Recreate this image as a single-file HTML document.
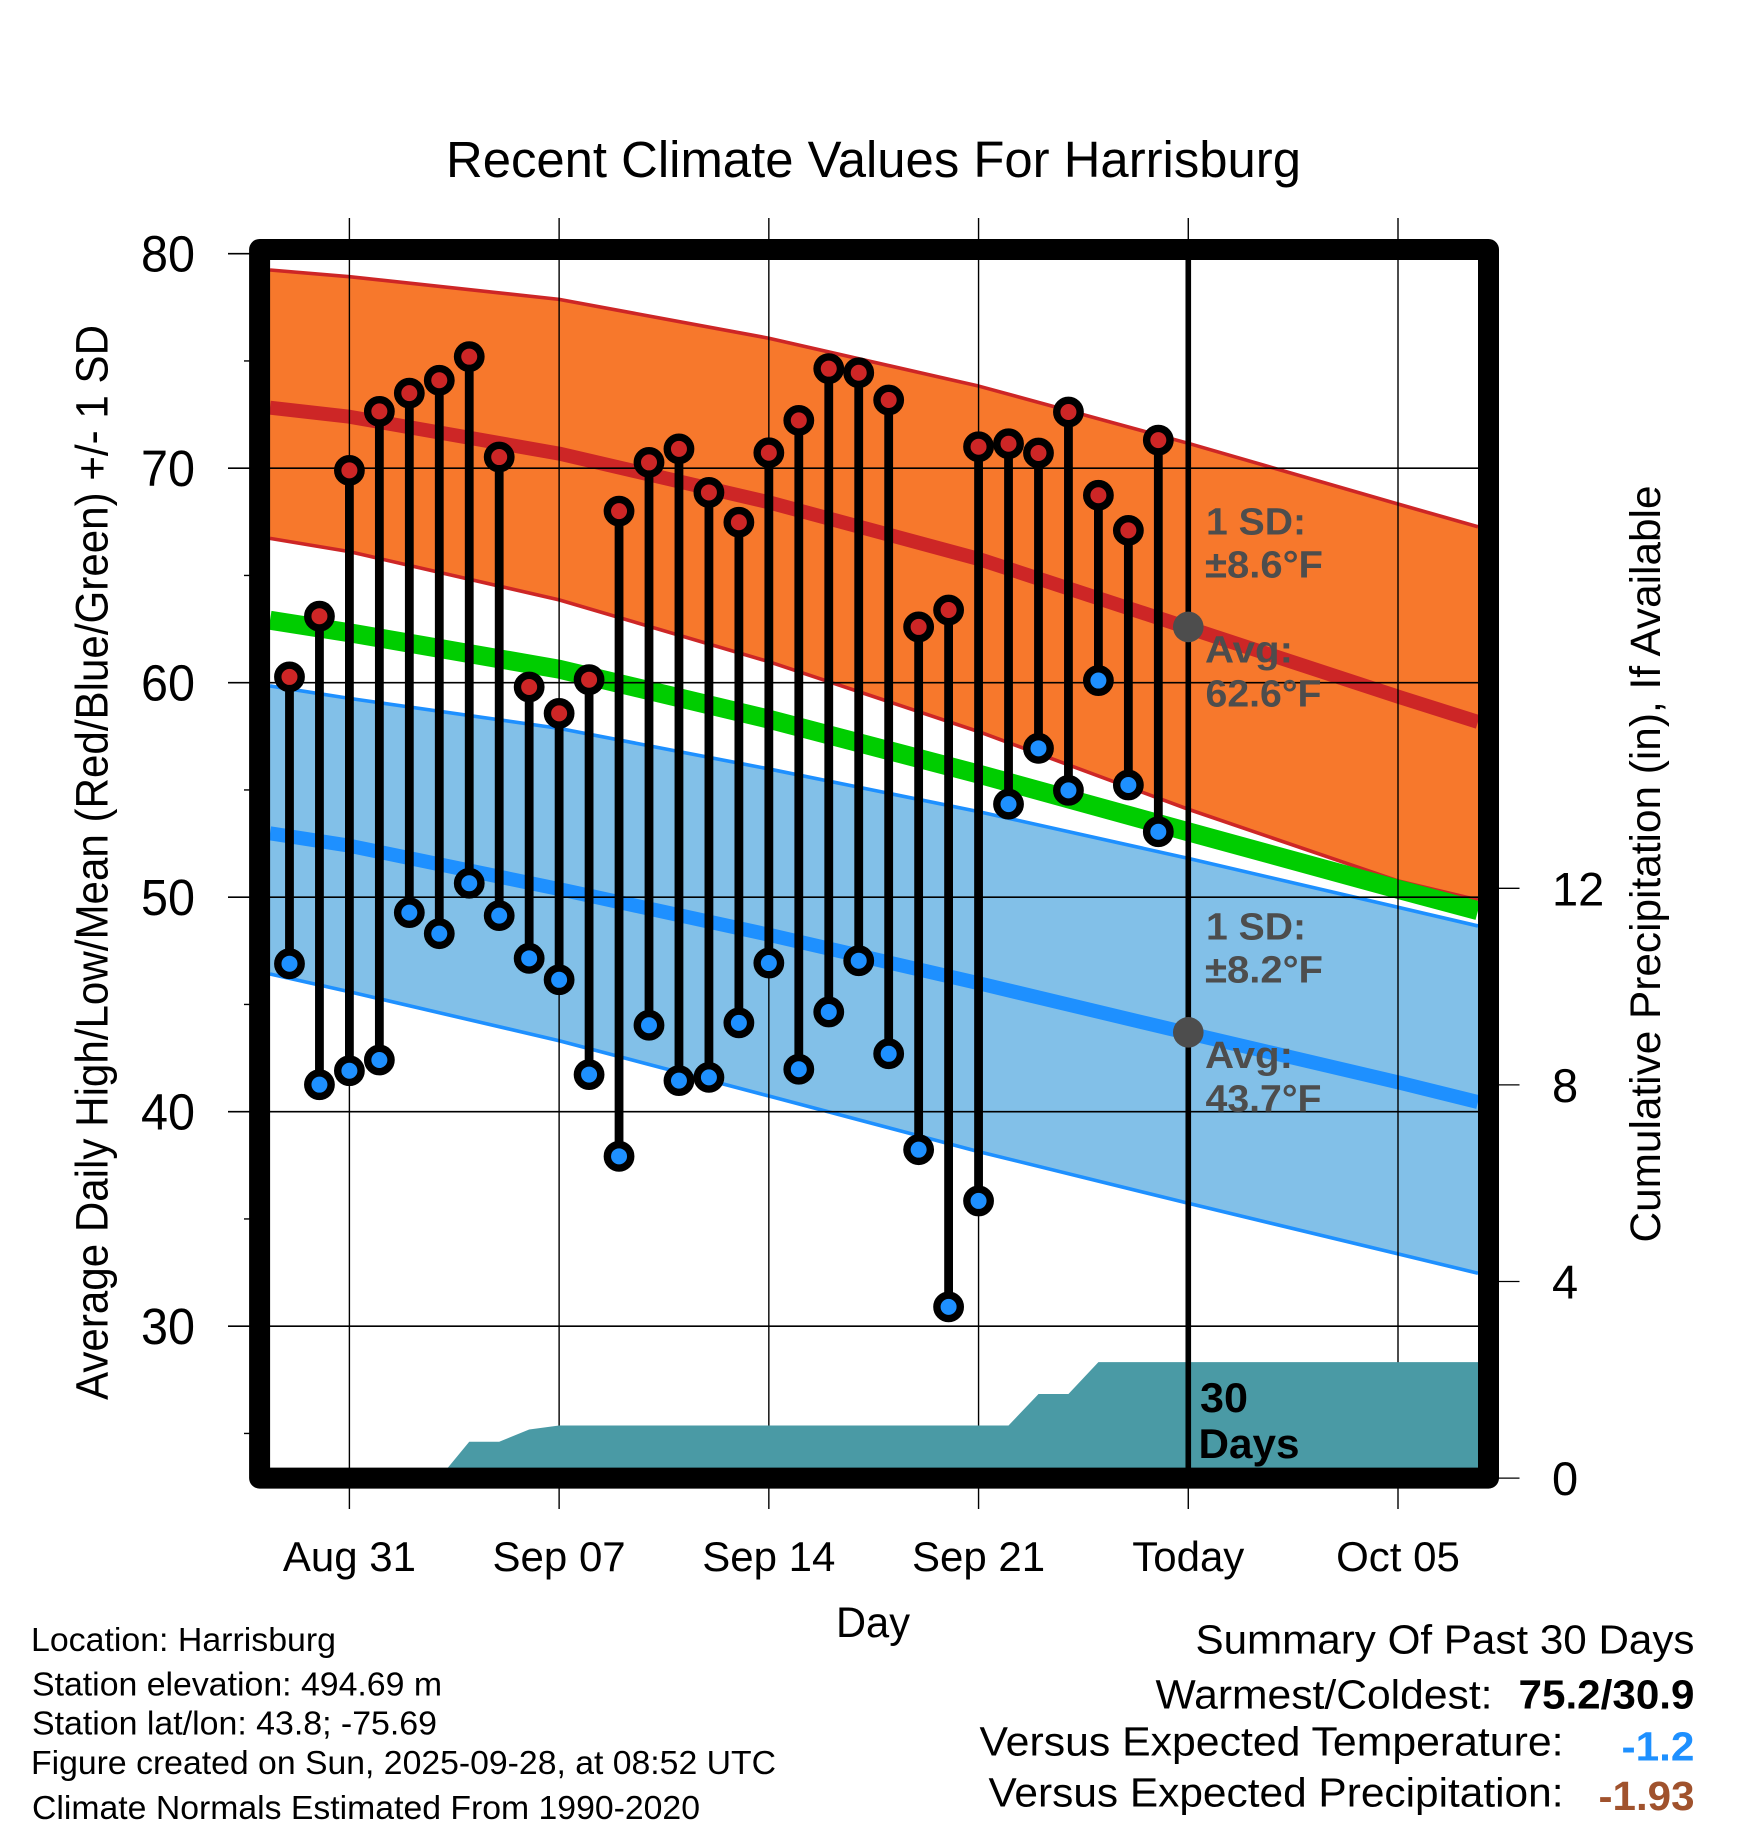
<!DOCTYPE html>
<html lang="en">
<head>
<meta charset="utf-8">
<title>Recent Climate Values For Harrisburg</title>
<style>
html,body{margin:0;padding:0;background:#fff;}
svg{display:block;}
text{font-family:"Liberation Sans",Arial,sans-serif;fill:#000;}
.note{font-weight:bold;font-size:38px;fill:#4d4d4d;}
.info{font-size:33px;}
.sum{font-size:41px;}
.bold{font-weight:bold;}
</style>
</head>
<body>
<svg id="chart" xmlns="http://www.w3.org/2000/svg" width="1748" height="1828" viewBox="0 0 1748 1828">
  <defs>
    <clipPath id="plot-clip"><rect x="259.6" y="249.5" width="1228.9" height="1228.6"/></clipPath>
  </defs>
  <text x="446" y="177" font-size="51" textLength="855" lengthAdjust="spacingAndGlyphs">Recent Climate Values For Harrisburg</text>
  <text x="107.5" y="1400" font-size="45" textLength="1075" lengthAdjust="spacingAndGlyphs" transform="rotate(-90 107.5 1400)">Average Daily High/Low/Mean (Red/Blue/Green) +/- 1 SD</text>
  <text x="1660" y="1242.5" font-size="43" textLength="757" lengthAdjust="spacingAndGlyphs" transform="rotate(-90 1660 1242.5)">Cumulative Precipitation (in), If Available</text>
  <text x="836" y="1637" font-size="43" textLength="74" lengthAdjust="spacingAndGlyphs">Day</text>

  <g id="plot" clip-path="url(#plot-clip)"></g>
  <g id="axes"></g>
  <rect x="259.6" y="249.5" width="1228.9" height="1228.6" fill="none" stroke="#000" stroke-width="21" stroke-linejoin="round"/>
  <g id="overlay"></g>

  <g>
    <text class="note" x="1206" y="534.3" textLength="100" lengthAdjust="spacingAndGlyphs">1 SD:</text>
    <text class="note" x="1205" y="577.7" textLength="118" lengthAdjust="spacingAndGlyphs">±8.6°F</text>
    <text class="note" x="1205" y="662.3" textLength="88" lengthAdjust="spacingAndGlyphs">Avg:</text>
    <text class="note" x="1205.5" y="706.7" textLength="116" lengthAdjust="spacingAndGlyphs">62.6°F</text>
    <text class="note" x="1206" y="939.3" textLength="100" lengthAdjust="spacingAndGlyphs">1 SD:</text>
    <text class="note" x="1205" y="982.7" textLength="118" lengthAdjust="spacingAndGlyphs">±8.2°F</text>
    <text class="note" x="1205" y="1068" textLength="88" lengthAdjust="spacingAndGlyphs">Avg:</text>
    <text class="note" x="1205.5" y="1111.7" textLength="116" lengthAdjust="spacingAndGlyphs">43.7°F</text>
    <text class="bold" x="1200" y="1412" font-size="42" textLength="48" lengthAdjust="spacingAndGlyphs">30</text>
    <text class="bold" x="1198.5" y="1458" font-size="42" textLength="101" lengthAdjust="spacingAndGlyphs">Days</text>
  </g>

  <g>
    <text class="info" x="31" y="1651" textLength="305" lengthAdjust="spacingAndGlyphs">Location: Harrisburg</text>
    <text class="info" x="32" y="1695.6" textLength="410" lengthAdjust="spacingAndGlyphs">Station elevation: 494.69 m</text>
    <text class="info" x="32" y="1734.7" textLength="405" lengthAdjust="spacingAndGlyphs">Station lat/lon: 43.8; -75.69</text>
    <text class="info" x="31" y="1774" textLength="745" lengthAdjust="spacingAndGlyphs">Figure created on Sun, 2025-09-28, at 08:52 UTC</text>
    <text class="info" x="32" y="1819" textLength="668" lengthAdjust="spacingAndGlyphs">Climate Normals Estimated From 1990-2020</text>
  </g>

  <g>
    <text class="sum" x="1195.5" y="1653.5" textLength="499" lengthAdjust="spacingAndGlyphs">Summary Of Past 30 Days</text>
    <text class="sum" x="1155.5" y="1708.4" textLength="337" lengthAdjust="spacingAndGlyphs">Warmest/Coldest:</text>
    <text class="sum bold" x="1518.5" y="1708.4" textLength="176" lengthAdjust="spacingAndGlyphs">75.2/30.9</text>
    <text class="sum" x="979.5" y="1755.5" textLength="584" lengthAdjust="spacingAndGlyphs">Versus Expected Temperature:</text>
    <text class="sum bold" x="1621.5" y="1760.6" textLength="73" lengthAdjust="spacingAndGlyphs" style="fill:#1e90ff">-1.2</text>
    <text class="sum" x="988.5" y="1806.7" textLength="575" lengthAdjust="spacingAndGlyphs">Versus Expected Precipitation:</text>
    <text class="sum bold" x="1598.5" y="1810" textLength="96" lengthAdjust="spacingAndGlyphs" style="fill:#a0522d">-1.93</text>
  </g>
</svg>

<script>
/* Daily observations, Aug 29 through Sep 27 */
const highs = [60.27,63.1,69.9,72.65,73.5,74.1,75.2,70.52,59.8,58.57,60.14,68.0,70.27,70.9,68.87,67.48,70.72,72.23,74.64,74.45,73.18,62.6,63.39,71.0,71.14,70.71,72.62,68.74,67.1,71.31];
const lows = [46.9,41.26,41.91,42.41,49.28,48.3,50.65,49.14,47.15,46.15,41.73,37.92,44.03,41.45,41.6,44.14,46.93,41.98,44.65,47.04,42.7,38.23,30.9,35.84,54.34,56.94,54.98,60.1,55.23,53.05];

/* Climate normals sampled at these day offsets from Aug 31 */
const normalDays = [-2.65,0,7,14,21,28,35,37.67];
const highUpper = [79.24,78.93,77.87,76.06,73.83,71.16,68.33,67.27];
const highMean = [72.82,72.4,70.68,68.41,65.77,62.56,59.35,58.17];
const highLower = [66.73,66.11,63.86,60.98,57.72,54.1,50.76,49.87];
const dailyMean = [62.91,62.33,60.63,58.3,55.74,53.05,50.37,49.37];
const lowUpper = [59.85,59.27,57.87,55.98,53.99,51.81,49.53,48.66];
const lowMean = [52.98,52.4,50.38,48.25,45.99,43.66,41.37,40.45];
const lowLower = [46.42,45.59,43.31,40.73,38.14,35.73,33.37,32.47];

/* Cumulative precipitation, inches, day offsets -3 through 38 */
const precip = [0,0,0,0,0,0,0,0.74,0.74,0.99,1.07,1.07,1.07,1.07,1.07,1.07,1.07,1.07,1.07,1.07,1.07,1.07,1.07,1.07,1.07,1.07,1.71,1.71,2.36,2.36,2.36,2.36,2.36,2.36,2.36,2.36,2.36,2.36,2.36,2.36,2.36,2.36];

/* Axis ticks and labels */
const majorTemps = [80,70,60,50,40,30];
const minorTemps = [75,65,55,45,35,25];
const precipTicks = [0,4,8,12];
const dateLabels = ["Aug 31","Sep 07","Sep 14","Sep 21","Today","Oct 05"];
const dateOffsets = [0,7,14,21,28,35];
const todayOffset = 28;
const todayHighMean = 62.6;
const todayLowMean = 43.7;

const NS = 'http://www.w3.org/2000/svg';
const X0 = 349.4, DX = 29.96, Y80 = 253.7, DY = 21.45, P0 = 1478.1, DP = 49.15;
function xDay(d){ return X0 + DX * d; }
function yTemp(v){ return Y80 + (80 - v) * DY; }
function yPrecip(p){ return P0 - DP * p; }
function make(tag, attrs, parent){
  const el = document.createElementNS(NS, tag);
  for (const k in attrs) el.setAttribute(k, attrs[k]);
  parent.appendChild(el);
  return el;
}
function pts(values){ return normalDays.map(function(d,i){ return xDay(d).toFixed(2)+','+yTemp(values[i]).toFixed(2); }); }

const plot = document.getElementById('plot');
const axes = document.getElementById('axes');
const overlay = document.getElementById('overlay');

/* Climate bands */
const highBand = make('polygon', {points: pts(highUpper).concat(pts(highLower).reverse()).join(' '), fill:'#f7782c'}, plot);


const lowBand = make('polygon', {points: pts(lowUpper).concat(pts(lowLower).reverse()).join(' '), fill:'#82c0e8'}, plot);



const hu = make('polyline', {points: pts(highUpper).join(' '), fill:'none', stroke:'#cd2626', 'stroke-width':3.6, 'stroke-linejoin':'round'}, plot);


const hl = make('polyline', {points: pts(highLower).join(' '), fill:'none', stroke:'#cd2626', 'stroke-width':3.6, 'stroke-linejoin':'round'}, plot);


const lu = make('polyline', {points: pts(lowUpper).join(' '), fill:'none', stroke:'#1e90ff', 'stroke-width':3.6, 'stroke-linejoin':'round'}, plot);


const ll = make('polyline', {points: pts(lowLower).join(' '), fill:'none', stroke:'#1e90ff', 'stroke-width':3.6, 'stroke-linejoin':'round'}, plot);


const hm = make('polyline', {points: pts(highMean).join(' '), fill:'none', stroke:'#cd2626', 'stroke-width':14, 'stroke-linejoin':'round'}, plot);


const dm = make('polyline', {points: pts(dailyMean).join(' '), fill:'none', stroke:'#00cd00', 'stroke-width':19, 'stroke-linejoin':'round'}, plot);


const lm = make('polyline', {points: pts(lowMean).join(' '), fill:'none', stroke:'#1e90ff', 'stroke-width':14, 'stroke-linejoin':'round'}, plot);



/* Grid and ticks */
majorTemps.forEach(function(v){
  const g = make('line', {x1:228, x2:1478, y1:yTemp(v), y2:yTemp(v), stroke:'#000', 'stroke-width':1.6}, plot);
  
  
  const t = make('line', {x1:228, x2:250, y1:yTemp(v), y2:yTemp(v), stroke:'#000', 'stroke-width':1.6}, axes);
  
  
  const l = make('text', {x:195, y:yTemp(v)+18, 'font-size':51, 'text-anchor':'end', textLength:54, lengthAdjust:'spacingAndGlyphs'}, axes);
  l.textContent = String(v);
  
  
});
minorTemps.forEach(function(v){
  const t = make('line', {x1:244, x2:250, y1:yTemp(v), y2:yTemp(v), stroke:'#000', 'stroke-width':1.4}, axes);
  
  
});
dateOffsets.forEach(function(d,i){
  const g = make('line', {x1:xDay(d), x2:xDay(d), y1:240, y2:1478, stroke:'#000', 'stroke-width':1.4}, plot);
  
  
  const t1 = make('line', {x1:xDay(d), x2:xDay(d), y1:218, y2:240, stroke:'#000', 'stroke-width':1.4}, axes);
  
  
  const t2 = make('line', {x1:xDay(d), x2:xDay(d), y1:1488, y2:1509, stroke:'#000', 'stroke-width':1.4}, axes);
  
  
  const l = make('text', {x:xDay(d), y:1571, 'font-size':42, 'text-anchor':'middle'}, axes);
  l.textContent = dateLabels[i];
  
  
});
precipTicks.forEach(function(p){
  const t = make('line', {x1:1498, x2:1519.5, y1:yPrecip(p), y2:yPrecip(p), stroke:'#000', 'stroke-width':1.3}, axes);
  
  
  const l = make('text', {x:1552, y:yPrecip(p)+17, 'font-size':47}, axes);
  l.textContent = String(p);
  
  
});

/* Cumulative precipitation area */
const precipPts = precip.map(function(p,i){ return xDay(i-3).toFixed(2)+','+yPrecip(p).toFixed(2); });
precipPts.push(xDay(precip.length-4).toFixed(2)+','+yPrecip(0).toFixed(2));
precipPts.push(xDay(-3).toFixed(2)+','+yPrecip(0).toFixed(2));
const area = make('polygon', {points: precipPts.join(' '), fill:'#4a9aa5'}, plot);



/* Today line */
const today = make('line', {x1:xDay(todayOffset), x2:xDay(todayOffset), y1:250, y2:1478, stroke:'#000', 'stroke-width':5.6}, plot);



/* Daily high-low stems and markers */
highs.forEach(function(h,i){
  const x = xDay(i-2);
  const stem = make('line', {x1:x, x2:x, y1:yTemp(h), y2:yTemp(lows[i]), stroke:'#000', 'stroke-width':8.8}, plot);
  
  
});
highs.forEach(function(h,i){
  const x = xDay(i-2);
  const hi = make('circle', {cx:x, cy:yTemp(h), r:11.7, fill:'#cd2626', stroke:'#000', 'stroke-width':7.4}, plot);
  
  
  const lo = make('circle', {cx:x, cy:yTemp(lows[i]), r:11.7, fill:'#1e90ff', stroke:'#000', 'stroke-width':7.4}, plot);
  
  
});

/* Today's normal markers */
const dotHigh = make('circle', {cx:xDay(todayOffset), cy:yTemp(todayHighMean), r:15.3, fill:'#4d4d4d'}, overlay);


const dotLow = make('circle', {cx:xDay(todayOffset), cy:yTemp(todayLowMean), r:15.3, fill:'#4d4d4d'}, overlay);


</script>
</body>
</html>
